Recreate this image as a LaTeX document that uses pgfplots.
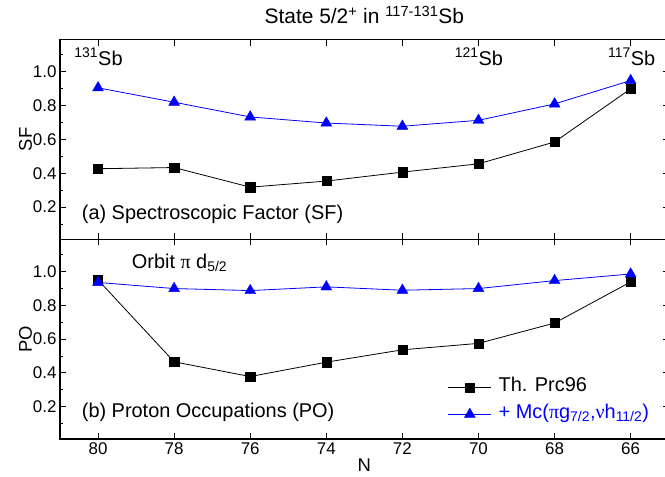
\documentclass[border=0pt]{standalone}
\usepackage{fontspec}
\setmainfont{Liberation Sans}
\newfontfamily\grk{Liberation Serif}
\usepackage{pgfplots}
\pgfplotsset{compat=1.18}
\definecolor{myblue}{RGB}{0,0,255}

\pgfplotstableread{
N SFth SFmc POth POmc
80 0.427 0.905 0.950 0.935
78 0.434 0.820 0.466 0.899
76 0.318 0.733 0.379 0.887
74 0.354 0.697 0.464 0.909
72 0.407 0.678 0.537 0.889
70 0.456 0.713 0.575 0.899
68 0.585 0.810 0.695 0.946
66 0.899 0.948 0.938 0.985
}\datatable

\tikzset{annot/.style={font=\fontsize{20}{20}\selectfont, inner sep=0pt, anchor=base west}}

\pgfplotsset{
  panel/.style={
    scale only axis, width=608.7bp, height=199.7bp,
    xmin=65, xmax=81, x dir=reverse,
    ymin=0.01, ymax=1.19,
    xtick={66,68,70,72,74,76,78,80},
    ytick={0.2,0.4,0.6,0.8,1.0},
    minor ytick={0.1,0.3,0.5,0.7,0.9,1.1},
    tick align=inside,
    major tick length=6bp, minor tick length=3bp,
    xtick pos=both, ytick pos=both,
    axis line style={line width=1.5bp},
    every tick/.style={line width=1bp, black},
    tick label style={font=\fontsize{17}{17}\selectfont},
    /pgf/number format/assume math mode=true,
    yticklabel style={/pgf/number format/.cd, fixed, fixed zerofill, precision=1},
    label style={font=\fontsize{18.5}{18.5}\selectfont},
    ylabel style={at={(axis description cs:-0.046,0.5)}, anchor=base, inner sep=0pt},
    clip=false,
  },
  thline/.style={black, line width=0.8bp, mark=square*, mark size=4.6bp, mark options={solid, line width=0.4bp}},
  mcline/.style={myblue, line width=0.8bp, mark=triangle*, mark size=6.3bp, mark options={solid, line width=0.4bp}},
}

\begin{document}
\begin{tikzpicture}
% bottom panel
\begin{axis}[panel, at={(60bp,38bp)}, anchor=south west,
  xlabel={N}, ylabel={PO},
  xlabel style={at={(axis description cs:0.5,0)}, anchor=base, yshift=-32bp, inner sep=0pt},
  legend style={at={(0.637,0.312)}, anchor=north west, draw=none, fill=none,
    font=\fontsize{20}{20}\selectfont, inner sep=0pt, row sep=6bp, column sep=6bp,
    nodes={inner sep=1bp, text height=14bp, text depth=5bp}},
  legend cell align=left,
  legend image code/.code={\draw[mark repeat=2,mark phase=2,#1] plot coordinates {(0bp,0bp)(21.5bp,0bp)(43bp,0bp)};},
]
\addplot[thline] table[x=N, y=POth] {\datatable};
\addlegendentry{Th. Prc96}
\addplot[mcline] table[x=N, y=POmc] {\datatable};
\addlegendentry{\textcolor{myblue}{+ Mc({\grk π}g\textsubscript{7/2},{\grk ν}h\textsubscript{11/2})}}
\node[annot] at (axis cs:79.115,1.019) {Orbit {\grk π} d\textsubscript{5/2}};
\node[annot] at (axis cs:80.43,0.135) {(b) Proton Occupations (PO)};
\end{axis}
% top panel
\begin{axis}[panel, at={(60bp,237.7bp)}, anchor=south west,
  xticklabels={}, ylabel={SF},
  title={State 5/2\textsuperscript{+} in \textsuperscript{117-131}Sb},
  title style={at={(axis description cs:0.5,1)}, anchor=base, yshift=10bp, inner sep=0pt, font=\fontsize{21}{21}\selectfont},
]
\addplot[thline] table[x=N, y=SFth] {\datatable};
\addplot[mcline] table[x=N, y=SFmc] {\datatable};
\node[annot] at (axis cs:80.43,0.129) {(a) Spectroscopic Factor (SF)};
\node[annot] at (axis cs:80,1.037) {\llap{\textsuperscript{131}}Sb};
\node[annot] at (axis cs:70,1.037) {\llap{\textsuperscript{121}}Sb};
\node[annot] at (axis cs:66,1.037) {\llap{\textsuperscript{117}}Sb};
\end{axis}
\pgfresetboundingbox
\useasboundingbox (0,0) rectangle (665bp,477bp);
\end{tikzpicture}
\end{document}
